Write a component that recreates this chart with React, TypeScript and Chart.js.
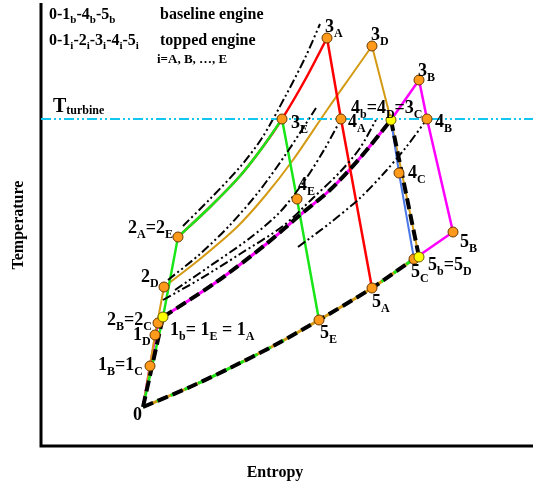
import React, { useEffect, useRef } from 'react';
import { Chart, registerables } from 'chart.js';

Chart.register(...registerables);

// ---------- Data (entropy s, temperature T, arbitrary units; origin = axes corner) ----------
// common low-pressure isobar (heat rejection 5 -> 0)
const lowS = [102, 149, 189, 234, 278, 331, 373, 378];
const lowT = [39, 59, 78, 101, 126, 158, 187, 189];
// baseline engine 0-1b-4b-5b
const baseCompS = [102, 122];
const baseCompT = [39, 129];
const baseHeatS = [122, 174, 224, 259, 289, 319, 350];
const baseHeatT = [129, 163, 201, 231, 256, 288, 326];
const baseExpS = [350, 378];
const baseExpT = [326, 189];
// topped engine A (and E shares its compression / heating isobar)
const aCompS = [122, 137];
const aCompT = [129, 209];
const aHeatS = [137, 169, 199, 221, 241, 264, 286];
const aHeatT = [209, 239, 270, 298, 327, 366, 408];
const aExpS = [286, 300, 331];
const aExpT = [408, 327, 158];
// engine E
const eHeatS = [137, 169, 199, 221, 241];
const eHeatT = [209, 239, 270, 298, 327];
const eExpS = [241, 256, 278];
const eExpT = [327, 247, 126];
// engine B
const bCompS = [102, 109, 117, 122];
const bCompT = [39, 80, 123, 129];
const bTopS = [350, 364, 378];
const bTopT = [326, 346, 366];
const bExpS = [378, 386, 412, 373];
const bExpT = [366, 327, 214, 187];
// engine C
const cExpS = [350, 358, 373];
const cExpT = [326, 273, 187];
// engine D
const dCompS = [102, 114, 123];
const dCompT = [39, 111, 159];
const dHeatS = [123, 159, 196, 224, 252, 286, 312, 331];
const dHeatT = [159, 187, 219, 250, 286, 336, 373, 400];
const dExpS = [331, 350, 378];
const dExpT = [400, 326, 189];
// dash-dot isobars
const iso1S = [142, 169, 199, 221, 244, 264, 279];
const iso1T = [220, 247, 279, 308, 349, 388, 422];
const iso2S = [127, 159, 189, 219, 247, 275];
const iso2T = [166, 192, 221, 256, 295, 338];
const iso3S = [134, 169, 209, 239, 264, 283, 300];
const iso3T = [156, 180, 208, 234, 266, 296, 327];
const iso4S = [122, 159, 199, 242, 272, 299, 319, 336];
const iso4T = [146, 167, 192, 220, 248, 274, 298, 328];
const iso5S = [257, 289, 319, 344, 366, 386];
const iso5T = [199, 223, 248, 274, 300, 327];
// turbine inlet temperature limit
const tTurbine = 327;
const turbineS = [0, 492];
// state points
const orangeNames = ['1B', '1D', '2B', '2D', '2A', '3E', '3A', '3D', '3B', '4A', '4B', '4C', '4E', '5B', '5C', '5A', '5E'];
const orangeS = [109, 114, 117, 123, 137, 241, 286, 331, 378, 300, 386, 358, 256, 412, 373, 331, 278];
const orangeT = [80, 111, 123, 159, 209, 327, 408, 400, 366, 327, 327, 273, 247, 214, 187, 158, 126];
const yellowNames = ['1b', '4b', '5b'];
const yellowS = [122, 350, 378];
const yellowT = [129, 326, 189];
// state labels (text, anchor s, anchor T)
const labelTexts = ['3_A', '3_D', '3_B', '3_E', '4_A', '4_b=4_D=3_C', '4_B', '4_C', '4_E', '5_B', '5_b=5_D', '5_C', '5_A', '5_E', '2_A=2_E', '2_D', '2_B=2_C', '1_b= 1_E = 1_A', '1_D', '1_B=1_C', '0'];
const labelS = [284, 330, 377, 250, 307, 310, 394, 367, 257, 419, 387, 370, 331, 279, 87, 100, 66, 129, 92, 57, 92];
const labelT = [414, 406, 370, 318, 319, 333, 319, 268, 256, 199, 176, 169, 139, 108, 213, 164, 121, 111, 106, 76, 26];
const legendTexts = ['0-1_b-4_b-5_b', 'baseline engine', '0-1_i-2_i-3_i-4_i-5_i', 'topped engine'];
const legendS = [8, 119, 8, 119];
const legendT = [427, 427, 401, 401];
const noteText = 'i=A, B, …, E';
const xTitle = 'Entropy';
const yTitle = 'Temperature';
const turbineLabel = 'T_{turbine}';

const SERIF = "'Liberation Serif', 'Times New Roman', serif";

const pts = (s: number[], t: number[]) => s.map((v, i) => ({ x: v, y: t[i] }));

type Part = { t: string; sub: boolean };
function parseRich(str: string): Part[] {
  const parts: Part[] = [];
  let buf = '';
  for (let i = 0; i < str.length; i++) {
    const c = str[i];
    if (c === '_') {
      if (buf) { parts.push({ t: buf, sub: false }); buf = ''; }
      if (str[i + 1] === '{') {
        const j = str.indexOf('}', i);
        parts.push({ t: str.slice(i + 2, j), sub: true });
        i = j;
      } else {
        parts.push({ t: str[i + 1], sub: true });
        i++;
      }
    } else buf += c;
  }
  if (buf) parts.push({ t: buf, sub: false });
  return parts;
}

function drawRich(ctx: CanvasRenderingContext2D, str: string, x: number, y: number, main: number, sub: number, shift: number) {
  let cx = x;
  for (const p of parseRich(str)) {
    ctx.font = `bold ${p.sub ? sub : main}px ${SERIF}`;
    ctx.fillText(p.t, cx, y + (p.sub ? shift : 0));
    cx += ctx.measureText(p.t).width;
  }
}

const line = (data: any[], color: string, width: number, order: number, dash: number[] = [], tension = 0) => ({
  type: 'line',
  data,
  borderColor: color,
  backgroundColor: color,
  borderWidth: width,
  borderDash: dash,
  tension,
  pointRadius: 0,
  fill: false,
  order,
});

const RED = '#ff0000';
const GREEN = '#19e619';
const GOLD = '#d49a14';
const MAG = '#ff00ff';
const BLUE = '#4a78e8';
const CYAN = '#12c6f0';
const DASH_DOT = [9, 3, 2, 3, 2, 3];
const BASE_DASH = [11, 5];

const overlay = {
  id: 'overlay',
  beforeDatasetsDraw(chart: any) {
    const { ctx, scales } = chart;
    const xs = scales.x, ys = scales.y;
    const x0 = xs.getPixelForValue(0);
    const y0 = ys.getPixelForValue(0);
    ctx.save();
    ctx.strokeStyle = '#000';
    ctx.lineWidth = 3;
    ctx.beginPath();
    ctx.moveTo(x0, ys.getPixelForValue(443));
    ctx.lineTo(x0, y0);
    ctx.lineTo(xs.getPixelForValue(492), y0);
    ctx.stroke();
    ctx.restore();
  },
  afterDraw(chart: any) {
    const { ctx, scales } = chart;
    const xs = scales.x, ys = scales.y;
    ctx.save();
    ctx.fillStyle = '#000';
    ctx.textBaseline = 'alphabetic';
    ctx.textAlign = 'left';
    labelTexts.forEach((t, i) => {
      drawRich(ctx, t, xs.getPixelForValue(labelS[i]), ys.getPixelForValue(labelT[i]), 18, 12, 5);
    });
    legendTexts.forEach((t, i) => {
      drawRich(ctx, t, xs.getPixelForValue(legendS[i]), ys.getPixelForValue(legendT[i]), 16, 11, 4);
    });
    drawRich(ctx, noteText, xs.getPixelForValue(116), ys.getPixelForValue(383), 13, 10, 3);
    drawRich(ctx, turbineLabel, xs.getPixelForValue(12), ys.getPixelForValue(334), 20, 12, 2);
    // axis titles
    ctx.font = `bold 16px ${SERIF}`;
    ctx.textAlign = 'center';
    ctx.fillText(xTitle, xs.getPixelForValue(234), ys.getPixelForValue(-31));
    ctx.translate(xs.getPixelForValue(-18), ys.getPixelForValue(221));
    ctx.rotate(-Math.PI / 2);
    ctx.fillText(yTitle, 0, 0);
    ctx.restore();
  },
};

export default function App() {
  const ref = useRef<HTMLCanvasElement>(null);
  useEffect(() => {
    const datasets: any[] = [
      // points on top
      {
        type: 'line', data: pts(yellowS, yellowT), showLine: false, pointRadius: 5,
        pointBackgroundColor: '#ffff00', pointBorderColor: '#6b5a00', pointBorderWidth: 1, order: 0, label: yellowNames.join(','),
      },
      {
        type: 'line', data: pts(orangeS, orangeT), showLine: false, pointRadius: 5,
        pointBackgroundColor: '#ff9a1a', pointBorderColor: '#6b3a00', pointBorderWidth: 1, order: 0, label: orangeNames.join(','),
      },
      // baseline engine, thick dashed black
      line(pts(baseCompS, baseCompT), '#000', 4, 1, BASE_DASH),
      line(pts(baseHeatS, baseHeatT), '#000', 4, 1, BASE_DASH, 0.3),
      line(pts(baseExpS, baseExpT), '#000', 4, 1, BASE_DASH),
      line(pts(lowS, lowT), '#000', 4, 1, BASE_DASH, 0.3),
      // T turbine
      line(pts(turbineS, [tTurbine, tTurbine]), CYAN, 2, 3, [10, 3, 2, 3, 2, 3]),
      // dash-dot isobars
      line(pts(iso1S, iso1T), '#000', 2, 4, DASH_DOT, 0.3),
      line(pts(iso2S, iso2T), '#000', 2, 4, DASH_DOT, 0.3),
      line(pts(iso3S, iso3T), '#000', 2, 4, DASH_DOT, 0.3),
      line(pts(iso4S, iso4T), '#000', 2, 4, DASH_DOT, 0.3),
      line(pts(iso5S, iso5T), '#000', 2, 4, DASH_DOT, 0.3),
      // engine E (green)
      line(pts(baseCompS, baseCompT), GREEN, 2.5, 5),
      line(pts(aCompS, aCompT), GREEN, 2.5, 5),
      line(pts(eHeatS, eHeatT), GREEN, 2.5, 5, [], 0.3),
      line(pts(eExpS, eExpT), GREEN, 2.5, 5),
      line(pts(lowS, lowT), GREEN, 3, 6, [6, 9], 0.3),
      // engine A (red)
      line(pts(aHeatS, aHeatT), RED, 2.5, 6, [], 0.3),
      line(pts(aExpS, aExpT), RED, 2.5, 6),
      // engine C (blue)
      line(pts(cExpS, cExpT), BLUE, 2, 7),
      // engine D (gold)
      line(pts(dCompS, dCompT), GOLD, 2, 7),
      line(pts(dHeatS, dHeatT), GOLD, 2, 7, [], 0.3),
      line(pts(dExpS, dExpT), GOLD, 2, 7),
      line(pts(lowS, lowT), GOLD, 3, 8, [], 0.3),
      // engine B (magenta)
      line(pts(bCompS, bCompT), MAG, 2.5, 8),
      line(pts(baseHeatS, baseHeatT), MAG, 3, 8, [], 0.3),
      line(pts(bTopS, bTopT), MAG, 2.5, 8),
      line(pts(bExpS, bExpT), MAG, 2.5, 8),
    ];
    const chart = new Chart(ref.current as HTMLCanvasElement, {
      type: 'line',
      data: { datasets },
      options: {
        animation: false,
        responsive: false,
        maintainAspectRatio: false,
        devicePixelRatio: 1,
        layout: { padding: 0, autoPadding: false },
        plugins: { legend: { display: false }, tooltip: { enabled: false }, title: { display: false } },
        scales: {
          x: { type: 'linear', display: false, min: -41, max: 492 },
          y: { type: 'linear', display: false, min: -41, max: 446 },
        },
      },
      plugins: [overlay],
    } as any);
    return () => chart.destroy();
  }, []);
  return (
    <div style={{ position: 'absolute', left: 0, top: 0, width: 533, height: 487, background: '#fff' }}>
      <canvas ref={ref} width={533} height={487} />
    </div>
  );
}
